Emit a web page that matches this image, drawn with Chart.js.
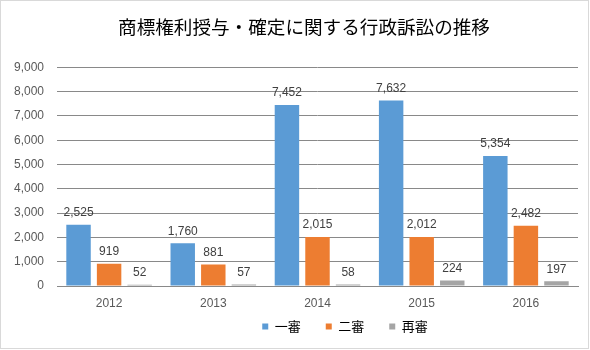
<!DOCTYPE html>
<html>
<head>
<meta charset="utf-8">
<script src="https://cdn.jsdelivr.net/npm/chart.js@4.4.1/dist/chart.umd.min.js"></script>
<style>
  html, body { margin: 0; padding: 0; background: #fff; }
  #wrap { width: 590px; height: 350px; position: relative; }
</style>
</head>
<body>
<div id="wrap"><canvas id="chart" width="590" height="350"></canvas></div>
<script>
var years = ['2012', '2013', '2014', '2015', '2016'];
var firstInstance = [2525, 1760, 7452, 7632, 5354];
var secondInstance = [919, 881, 2015, 2012, 2482];
var retrial = [52, 57, 58, 224, 197];
var yTicks = [0, 1000, 2000, 3000, 4000, 5000, 6000, 7000, 8000, 9000];

var tickFont = { family: '"Liberation Sans", Arial, sans-serif', size: 12 };

// simple value labels above each bar
var valueLabels = {
  id: 'valueLabels',
  afterDatasetsDraw: function (chart) {
    var ctx = chart.ctx;
    ctx.save();
    ctx.fillStyle = '#404040';
    ctx.font = '12px "Liberation Sans", Arial, sans-serif';
    ctx.textAlign = 'center';
    ctx.textBaseline = 'middle';
    chart.data.datasets.forEach(function (ds, i) {
      var meta = chart.getDatasetMeta(i);
      meta.data.forEach(function (bar, j) {
        ctx.fillText(ds.data[j].toLocaleString('en-US'), bar.x, bar.y - 12);
      });
    });
    ctx.restore();
  }
};

// light frame round the chart
var frame = {
  id: 'frame',
  beforeDraw: function (chart) {
    var ctx = chart.ctx;
    ctx.save();
    ctx.fillStyle = '#fff';
    ctx.fillRect(0, 0, chart.width, chart.height);
    ctx.strokeStyle = '#d9d9d9';
    ctx.lineWidth = 1;
    ctx.strokeRect(0.5, 0.5, 588, 348);
    ctx.restore();
  }
};

// title and legend sit a little right of centre; legend close under the axis labels
var boxShift = {
  id: 'boxShift',
  afterLayout: function (chart) {
    var lg = chart.legend;
    lg.left += 56; lg.right += 56;
    lg.top -= 22;
    lg.height = lg.bottom - lg.top;
    var t = chart.titleBlock;
    t.left += 15; t.right += 15;
  }
};

new Chart(document.getElementById('chart'), {
  type: 'bar',
  data: {
    labels: years,
    datasets: [
      { label: '一審', data: firstInstance, backgroundColor: '#5b9bd5' },
      { label: '二審', data: secondInstance, backgroundColor: '#ed7d31' },
      { label: '再審', data: retrial, backgroundColor: '#a5a5a5' }
    ]
  },
  options: {
    responsive: false,
    animation: false,
    categoryPercentage: 0.88,
    barPercentage: 0.8,
    layout: { padding: { left: 0, right: 12, top: 0, bottom: 0 } },
    plugins: {
      title: {
        display: true,
        text: '商標権利授与・確定に関する行政訴訟の推移',
        color: '#000',
        font: { family: '"Noto Sans CJK JP", sans-serif', size: 18.6, weight: 'normal' },
        padding: { top: 16, bottom: 29 }
      },
      legend: {
        position: 'bottom',
        maxHeight: 33,
        labels: {
          boxWidth: 6,
          boxHeight: 6,
          padding: 25,
          color: '#000',
          font: { family: '"Noto Sans CJK JP", sans-serif', size: 13 }
        }
      },
      tooltip: { enabled: false }
    },
    scales: {
      x: {
        afterFit: function (scale) { scale.height = 31; },
        grid: { display: false, drawTicks: false },
        border: { color: '#898989' },
        ticks: { color: '#595959', font: tickFont, padding: 10 }
      },
      y: {
        min: 0,
        max: 9000,
        afterFit: function (scale) { scale.width = 57; },
        afterBuildTicks: function (scale) {
          scale.ticks = yTicks.map(function (v) { return { value: v }; });
        },
        grid: { color: '#898989', drawTicks: false },
        border: { display: false },
        ticks: {
          color: '#595959',
          font: tickFont,
          padding: 13,
          callback: function (v) { return v.toLocaleString('en-US'); }
        }
      }
    }
  },
  plugins: [frame, valueLabels, boxShift]
});
</script>
</body>
</html>
